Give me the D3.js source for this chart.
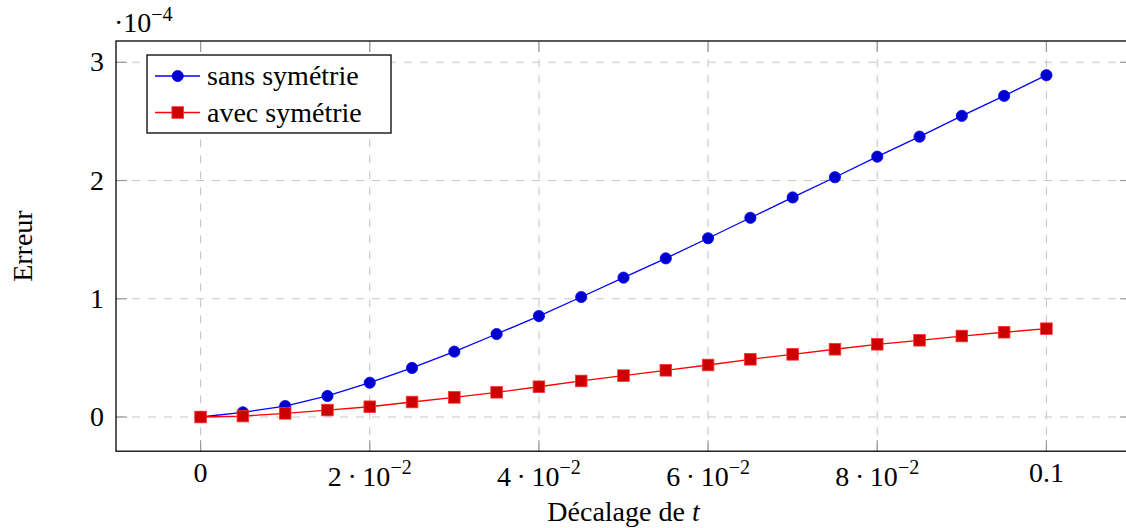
<!DOCTYPE html>
<html>
<head>
<meta charset="utf-8">
<script src="https://cdn.jsdelivr.net/npm/d3@7/dist/d3.min.js"></script>
<style>
body { margin: 0; background: #fff; }
text { font-family: "Liberation Serif", "Times New Roman", serif; fill: #000; }
</style>
</head>
<body>
<svg width="1126" height="528"></svg>
<script>
// decalage de t (abscisse)
var decalage = [0, 0.005, 0.01, 0.015, 0.02, 0.025, 0.03, 0.035, 0.04, 0.045, 0.05,
                0.055, 0.06, 0.065, 0.07, 0.075, 0.08, 0.085, 0.09, 0.095, 0.1];
// erreurs, en unites de 1e-4
var sansSymetrie = [0, 0.04, 0.093, 0.178, 0.29, 0.415, 0.553, 0.702, 0.854, 1.015, 1.179,
                    1.342, 1.512, 1.685, 1.857, 2.028, 2.202, 2.371, 2.547, 2.716, 2.891];
var avecSymetrie = [0, 0.008, 0.031, 0.059, 0.087, 0.127, 0.166, 0.209, 0.256, 0.305, 0.35,
                    0.395, 0.44, 0.488, 0.53, 0.573, 0.615, 0.649, 0.685, 0.717, 0.747];
var seriesNames = ["sans symétrie", "avec symétrie"];
var xTicks = [0, 0.02, 0.04, 0.06, 0.08, 0.1];
var xTickMant = ["0", "2", "4", "6", "8", "0.1"];
var xTickExp = ["", "−2", "−2", "−2", "−2", ""];
var yTicks = [0, 1, 2, 3];
var yExponent = "−4";

var svg = d3.select("svg");
var pLeft = 116, pRight = 1131, pTop = 41, pBottom = 451.2;
var fontSize = 28;
var tickLen = 11;

// enlargelimits facon pgfplots (10 %)
var xr = d3.extent(decalage);
var xpad = (xr[1] - xr[0]) * 0.1;
var yr = d3.extent(sansSymetrie.concat(avecSymetrie));
var ypad = (yr[1] - yr[0]) * 0.1;

var x = d3.scaleLinear().domain([xr[0] - xpad, xr[1] + xpad]).range([pLeft, pRight]);
var y = d3.scaleLinear().domain([yr[0] - ypad, yr[1] + ypad]).range([pBottom, pTop]);

// grille
var grid = svg.append("g").attr("stroke", "#c8c8c8").attr("stroke-width", 1.1).attr("stroke-dasharray", "8,8");
grid.selectAll(".gx").data(xTicks).enter().append("line")
    .attr("x1", function(d) { return x(d); }).attr("x2", function(d) { return x(d); })
    .attr("y1", pBottom).attr("y2", pTop);
grid.selectAll(".gy").data(yTicks).enter().append("line")
    .attr("y1", function(d) { return y(d); }).attr("y2", function(d) { return y(d); })
    .attr("x1", pLeft).attr("x2", pRight);

// graduations vers l'interieur, sur les quatre cotes
var ticks = svg.append("g").attr("stroke", "#9a9a9a").attr("stroke-width", 1.2);
xTicks.forEach(function(d) {
    ticks.append("line").attr("x1", x(d)).attr("x2", x(d)).attr("y1", pBottom).attr("y2", pBottom - tickLen);
    ticks.append("line").attr("x1", x(d)).attr("x2", x(d)).attr("y1", pTop).attr("y2", pTop + tickLen);
});
yTicks.forEach(function(d) {
    ticks.append("line").attr("y1", y(d)).attr("y2", y(d)).attr("x1", pLeft).attr("x2", pLeft + tickLen);
    ticks.append("line").attr("y1", y(d)).attr("y2", y(d)).attr("x1", pRight).attr("x2", pRight - tickLen);
});

// cadre
svg.append("rect")
    .attr("x", pLeft).attr("y", pTop)
    .attr("width", pRight - pLeft).attr("height", pBottom - pTop)
    .attr("fill", "none").attr("stroke", "#000").attr("stroke-width", 1.3);

// etiquettes de l'axe x
var xl = svg.selectAll(".xlab").data(xTicks).enter().append("text")
    .attr("class", "xlab")
    .attr("x", function(d) { return x(d); })
    .attr("y", function(d, i) { return xTickExp[i] ? 486 : 482; })
    .attr("text-anchor", "middle")
    .style("font-size", fontSize + "px");
xl.each(function(d, i) {
    var t = d3.select(this);
    if (!xTickExp[i]) { t.text(xTickMant[i]); return; }
    t.append("tspan").text(xTickMant[i] + "\u2009·\u200910");
    t.append("tspan").attr("dy", -12).style("font-size", "20px").text(xTickExp[i]);
});

// etiquettes de l'axe y
svg.selectAll(".ylab").data(yTicks).enter().append("text")
    .attr("x", 104)
    .attr("y", function(d) { return y(d) + 9; })
    .attr("text-anchor", "end")
    .style("font-size", fontSize + "px")
    .text(function(d) { return d; });

// facteur d'echelle en haut
var sc = svg.append("text").attr("x", 114).attr("y", 32).style("font-size", fontSize + "px");
sc.append("tspan").text("·10");
sc.append("tspan").attr("dy", -11).style("font-size", "20px").text(yExponent);

// titres des axes
var xt = svg.append("text")
    .attr("x", (pLeft + pRight) / 2).attr("y", 521)
    .attr("text-anchor", "middle")
    .style("font-size", fontSize + "px")
    .text("Décalage de ");
xt.append("tspan").style("font-style", "italic").text("t");

svg.append("text")
    .attr("transform", "translate(32," + ((pTop + pBottom) / 2) + ") rotate(-90)")
    .attr("text-anchor", "middle")
    .style("font-size", fontSize + "px")
    .text("Erreur");

// courbes
var line = d3.line()
    .x(function(d) { return x(d[0]); })
    .y(function(d) { return y(d[1]); });

var blueData = d3.zip(decalage, sansSymetrie);
var redData = d3.zip(decalage, avecSymetrie);

svg.append("path").datum(blueData).attr("d", line)
    .attr("fill", "none").attr("stroke", "#0000ff").attr("stroke-width", 1.3);
svg.selectAll(".pb").data(blueData).enter().append("circle")
    .attr("cx", function(d) { return x(d[0]); })
    .attr("cy", function(d) { return y(d[1]); })
    .attr("r", 5.6)
    .attr("fill", "#0000cc").attr("stroke", "#0000ff").attr("stroke-width", 0.8);

svg.append("path").datum(redData).attr("d", line)
    .attr("fill", "none").attr("stroke", "#ff0000").attr("stroke-width", 1.3);
svg.selectAll(".pr").data(redData).enter().append("rect")
    .attr("x", function(d) { return x(d[0]) - 5.8; })
    .attr("y", function(d) { return y(d[1]) - 5.8; })
    .attr("width", 11.6).attr("height", 11.6)
    .attr("fill", "#cc0000").attr("stroke", "#ff3030").attr("stroke-width", 0.8);

// legende
var leg = svg.append("g");
leg.append("rect")
    .attr("x", 147).attr("y", 55).attr("width", 244).attr("height", 78)
    .attr("fill", "#fff").attr("stroke", "#000").attr("stroke-width", 1.3);
var rows = [76, 112.5];
var colorsLine = ["#0000ff", "#ff0000"];
seriesNames.forEach(function(name, i) {
    var ry = rows[i];
    leg.append("line").attr("x1", 155).attr("x2", 200).attr("y1", ry).attr("y2", ry)
        .attr("stroke", colorsLine[i]).attr("stroke-width", 1.3);
    if (i === 0) {
        leg.append("circle").attr("cx", 177.7).attr("cy", ry).attr("r", 5.6)
            .attr("fill", "#0000cc").attr("stroke", "#0000ff").attr("stroke-width", 0.8);
    } else {
        leg.append("rect").attr("x", 177.7 - 5.8).attr("y", ry - 5.8).attr("width", 11.6).attr("height", 11.6)
            .attr("fill", "#cc0000").attr("stroke", "#ff3030").attr("stroke-width", 0.8);
    }
    leg.append("text").attr("x", 207).attr("y", ry + 9)
        .style("font-size", fontSize + "px").text(name);
});
</script>
</body>
</html>
